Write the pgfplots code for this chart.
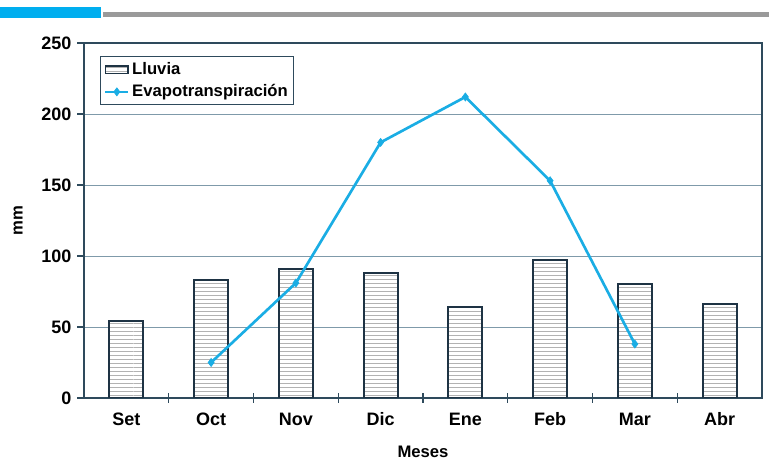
\documentclass[border=0pt]{standalone}
\usepackage{fontspec}
\setmainfont{Liberation Sans}
\usepackage{pgfplots}
\pgfplotsset{compat=1.18}
\usetikzlibrary{patterns}
\definecolor{evap}{HTML}{1AADE4}
\definecolor{frame}{HTML}{2E4A5C}
\definecolor{gridc}{HTML}{7F9AAA}
\definecolor{barline}{HTML}{1E3344}
\definecolor{hdrblue}{HTML}{00AEEF}
\definecolor{hdrgrey}{HTML}{9A9A9A}
\begin{document}
\begin{tikzpicture}
\useasboundingbox (0,0) rectangle (576.75pt,345pt);
\fill[hdrblue] (0,331.5pt) rectangle (75.75pt,339.5pt);
\fill[hdrgrey] (77.25pt,332pt) rectangle (576.75pt,336pt);
\begin{axis}[
  at={(63pt,46.5pt)}, anchor=south west,
  scale only axis, width=508.5pt, height=266.25pt,
  xmin=-0.5, xmax=7.5, ymin=0, ymax=250,
  xtick={0,...,7}, xticklabels={Set,Oct,Nov,Dic,Ene,Feb,Mar,Abr},
  minor xtick={0.5,1.5,...,6.5},
  ytick={0,50,...,250},
  tick pos=left,
  xtick align=center, ytick align=outside,
  major tick length=5pt, minor tick length=7.5pt,
  major x tick style={draw=none},
  tick style={frame, line width=0.8pt},
  axis line style={frame, line width=1pt},
  ymajorgrids, major grid style={gridc, line width=0.7pt},
  /pgf/number format/assume math mode=true,
  ticklabel style={font=\bfseries\fontsize{13.5}{15}\selectfont},
  x tick label style={yshift=-6pt, text height=1.6ex, text depth=0.3ex},
  y tick label style={xshift=-1pt},
  label style={font=\bfseries\fontsize{12.5}{14}\selectfont},
  xlabel={Meses}, ylabel={mm},
  xlabel style={at={(axis description cs:0.5,-0.152)}, anchor=center},
  ylabel style={at={(axis description cs:-0.097,0.5)}, anchor=center},
  legend style={at={(axis description cs:0.024,0.963)}, anchor=north west,
    draw=frame, line width=0.8pt, font=\bfseries\fontsize{12.5}{15}\selectfont,
    inner sep=2.5pt, row sep=2pt},
  legend cell align=left,
]
\addplot[ybar, bar width=25.5pt, bar shift=0pt, draw=none, fill=white,
  postaction={pattern=horizontal lines, pattern color=gray!60}, forget plot]
  coordinates {(0,54) (1,83) (2,91) (3,88) (4,64) (5,97) (6,80) (7,66)};
\addplot[ybar, bar width=25.5pt, bar shift=0pt, draw=barline, line width=1.4pt, fill=none,
  legend image code/.code={%
    \fill[white] (0cm,-0.1cm) rectangle (0.6cm,0.1cm);
    \fill[pattern=horizontal lines, pattern color=gray!60] (0cm,-0.1cm) rectangle (0.6cm,0.1cm);
    \draw[barline, line width=1.2pt] (0cm,-0.1cm) rectangle (0.6cm,0.1cm);}]
  coordinates {(0,54) (1,83) (2,91) (3,88) (4,64) (5,97) (6,80) (7,66)};
\addlegendentry{Lluvia}
\addplot[evap, line width=2pt, mark=diamond*, mark size=3pt,
  mark options={solid, fill=evap, line width=0.5pt}]
  coordinates {(1,25) (2,81) (3,180) (4,212) (5,153) (6,38)};
\addlegendentry{Evapotranspiración}
\end{axis}
\end{tikzpicture}
\end{document}
